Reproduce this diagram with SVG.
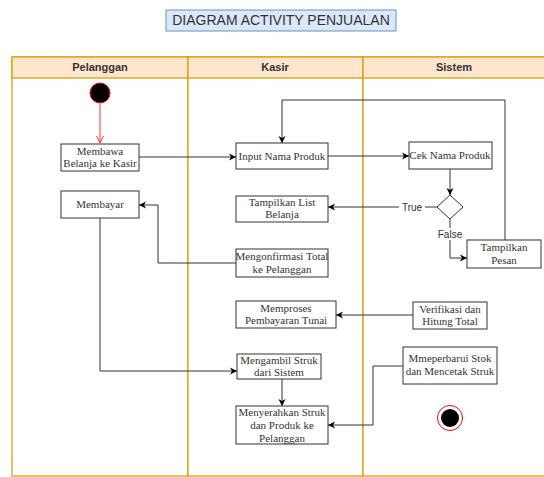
<svg xmlns="http://www.w3.org/2000/svg" width="544" height="477" viewBox="0 0 544 477">
<defs>
<style>
.lane{fill:#ffffff;stroke:#d79b00;stroke-width:1.2}
.hdr{fill:#ffe6cc;stroke:#d79b00;stroke-width:1.2}
.ht{font-family:"Liberation Sans",Arial,sans-serif;font-size:11px;font-weight:bold;fill:#333;text-anchor:middle}
.box{fill:#fff;stroke:#333;stroke-width:1}
.bt{font-family:"Liberation Serif","Times New Roman",serif;font-size:11px;fill:#333;text-anchor:middle}
.ln{fill:none;stroke:#333;stroke-width:1}
.lbl{font-family:"Liberation Sans",Arial,sans-serif;font-size:10px;fill:#333;text-anchor:middle}
</style>
<marker id="ah" markerWidth="8" markerHeight="8" refX="7" refY="4" orient="auto" markerUnits="userSpaceOnUse">
<path d="M0,0.5 L7,4 L0,7.5 L2,4 Z" fill="#000"/>
</marker>
<marker id="ahr" markerWidth="8" markerHeight="8" refX="7" refY="4" orient="auto" markerUnits="userSpaceOnUse">
<path d="M0,0.5 L7,4 L0,7.5" fill="none" stroke="#ff3333" stroke-width="1"/>
</marker>
</defs>
<rect width="544" height="477" fill="#fff"/>
<g id="title">
<rect x="166" y="10" width="230" height="21" fill="#dae8fc" stroke="#6c8ebf"/>
<text x="281" y="25" font-family="Liberation Sans,Arial,sans-serif" font-size="14" fill="#333" text-anchor="middle">DIAGRAM ACTIVITY PENJUALAN</text>
</g>
<g id="lanes">
<rect class="lane" x="12" y="57" width="176" height="419"/>
<rect class="lane" x="188" y="57" width="175" height="419"/>
<rect class="lane" x="363" y="57" width="185" height="419"/>
<rect class="hdr" x="12" y="57" width="176" height="21"/>
<rect class="hdr" x="188" y="57" width="175" height="21"/>
<rect class="hdr" x="363" y="57" width="185" height="21"/>
<text class="ht" x="100" y="71">Pelanggan</text>
<text class="ht" x="275" y="71">Kasir</text>
<text class="ht" x="454" y="71">Sistem</text>
</g>
<g id="connectors">
<line x1="100" y1="104" x2="100" y2="143" stroke="#ff3333" stroke-width="1" marker-end="url(#ahr)"/>
<line class="ln" x1="139" y1="157" x2="236" y2="157" marker-end="url(#ah)"/>
<line class="ln" x1="328" y1="156" x2="409" y2="156" marker-end="url(#ah)"/>
<line class="ln" x1="450" y1="169" x2="450" y2="195" marker-end="url(#ah)"/>
<line class="ln" x1="437" y1="207" x2="328" y2="207" marker-end="url(#ah)"/>
<polyline class="ln" points="450,219 450,258 467,258" marker-end="url(#ah)"/>
<polyline class="ln" points="505,240 505,100 282,100 282,143" marker-end="url(#ah)"/>
<polyline class="ln" points="236,263 158,263 158,205 139,205" marker-end="url(#ah)"/>
<polyline class="ln" points="100,218 100,371 237,371" marker-end="url(#ah)"/>
<line class="ln" x1="413" y1="315" x2="336" y2="315" marker-end="url(#ah)"/>
<line class="ln" x1="282" y1="379" x2="282" y2="406" marker-end="url(#ah)"/>
<polyline class="ln" points="403,366 373,366 373,425 328,425" marker-end="url(#ah)"/>
<rect x="399" y="201" width="26" height="12" fill="#fff"/>
<text class="lbl" x="412" y="211">True</text>
<rect x="437" y="228" width="26" height="12" fill="#fff"/>
<text class="lbl" x="450" y="238">False</text>
</g>
<g id="start"><circle cx="100" cy="93" r="10" fill="#000" stroke="#ff0000" stroke-width="1"/></g>
<g id="membawa"><rect class="box" x="61" y="144" width="78" height="27"/><text class="bt" x="100" y="155">Membawa</text><text class="bt" x="100" y="167">Belanja ke Kasir</text></g>
<g id="membayar"><rect class="box" x="61" y="191" width="78" height="27"/><text class="bt" x="100" y="208">Membayar</text></g>
<g id="input"><rect class="box" x="236" y="143" width="92" height="26"/><text class="bt" x="282" y="160">Input Nama Produk</text></g>
<g id="tampilkanlist"><rect class="box" x="236" y="196" width="92" height="26"/><text class="bt" x="282" y="206">Tampilkan List</text><text class="bt" x="282" y="218">Belanja</text></g>
<g id="mengonfirmasi"><rect class="box" x="236" y="249" width="92" height="28"/><text class="bt" x="282" y="260">Mengonfirmasi Total</text><text class="bt" x="282" y="273">ke Pelanggan</text></g>
<g id="memproses"><rect class="box" x="236" y="301" width="100" height="27"/><text class="bt" x="286" y="312">Memproses</text><text class="bt" x="286" y="324">Pembayaran Tunai</text></g>
<g id="mengambil"><rect class="box" x="237" y="354" width="84" height="25"/><text class="bt" x="279" y="364">Mengambil Struk</text><text class="bt" x="279" y="376">dari Sistem</text></g>
<g id="menyerahkan"><rect class="box" x="236" y="406" width="92" height="38"/><text class="bt" x="282" y="416">Menyerahkan Struk</text><text class="bt" x="282" y="429">dan Produk ke</text><text class="bt" x="282" y="442">Pelanggan</text></g>
<g id="cek"><rect class="box" x="409" y="142" width="83" height="27"/><text class="bt" x="450" y="159">Cek Nama Produk</text></g>
<g id="decision"><polygon points="450,195 463,207 450,219 437,207" fill="#fff" stroke="#333"/></g>
<g id="tampilkanpesan"><rect class="box" x="467" y="240" width="74" height="28"/><text class="bt" x="504" y="251">Tampilkan</text><text class="bt" x="504" y="264">Pesan</text></g>
<g id="verifikasi"><rect class="box" x="413" y="302" width="74" height="27"/><text class="bt" x="450" y="313">Verifikasi dan</text><text class="bt" x="450" y="325">Hitung Total</text></g>
<g id="mmeperbarui"><rect class="box" x="403" y="347" width="94" height="37"/><text class="bt" x="450" y="362">Mmeperbarui Stok</text><text class="bt" x="450" y="375">dan Mencetak Struk</text></g>
<g id="end"><circle cx="450" cy="418" r="12.5" fill="#fff" stroke="#ff0000" stroke-width="1"/><circle cx="450" cy="418" r="9" fill="#000"/></g>
</svg>
